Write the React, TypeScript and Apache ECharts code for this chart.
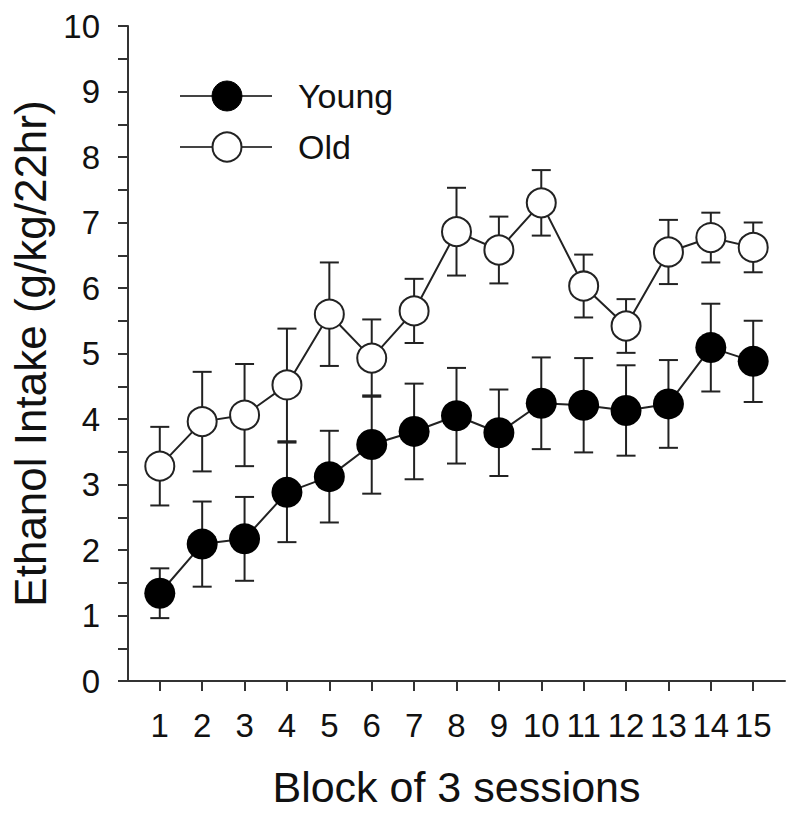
import React, { useEffect, useRef } from "react";
import * as echarts from "echarts";

const blocks = [1, 2, 3, 4, 5, 6, 7, 8, 9, 10, 11, 12, 13, 14, 15];
const youngMean = [1.34, 2.09, 2.17, 2.88, 3.12, 3.61, 3.81, 4.05, 3.79, 4.24, 4.21, 4.13, 4.23, 5.09, 4.88];
const youngErr = [0.38, 0.65, 0.64, 0.76, 0.7, 0.75, 0.73, 0.73, 0.66, 0.7, 0.72, 0.69, 0.67, 0.67, 0.62];
const oldMean = [3.28, 3.96, 4.06, 4.52, 5.6, 4.93, 5.65, 6.86, 6.58, 7.3, 6.03, 5.42, 6.55, 6.77, 6.62];
const oldErr = [0.6, 0.76, 0.78, 0.86, 0.79, 0.59, 0.49, 0.67, 0.51, 0.5, 0.48, 0.41, 0.49, 0.38, 0.38];
const yLabels = [0, 1, 2, 3, 4, 5, 6, 7, 8, 9, 10];

const FONT = "'Liberation Sans', Arial, Helvetica, sans-serif";
const INK = "#111";
const AXIS = "#333";

function errorSeries(mean: number[], err: number[]) {
  return {
    type: "custom",
    z: 1,
    silent: true,
    data: blocks.map((b, i) => [b, mean[i] - err[i], mean[i] + err[i]]),
    renderItem: (params: any, api: any) => {
      const x = api.value(0);
      const lo = api.coord([x, api.value(1)]);
      const hi = api.coord([x, api.value(2)]);
      const cap = 9.5;
      const style = { stroke: "#222", lineWidth: 2 };
      return {
        type: "group",
        children: [
          { type: "line", shape: { x1: lo[0], y1: lo[1], x2: hi[0], y2: hi[1] }, style },
          { type: "line", shape: { x1: lo[0] - cap, y1: lo[1], x2: lo[0] + cap, y2: lo[1] }, style },
          { type: "line", shape: { x1: hi[0] - cap, y1: hi[1], x2: hi[0] + cap, y2: hi[1] }, style },
        ],
      };
    },
  };
}

export default function App() {
  const ref = useRef<HTMLDivElement>(null);
  useEffect(() => {
    if (!ref.current) return;
    const chart = echarts.init(ref.current, null, { renderer: "svg" });
    chart.setOption({
      animation: false,
      backgroundColor: "#fff",
      grid: { left: 128, top: 26, right: 4, bottom: 139, containLabel: false },
      xAxis: {
        type: "value",
        min: 0.25,
        max: 15.75,
        name: "Block of 3 sessions",
        nameLocation: "middle",
        nameGap: 84,
        nameTextStyle: { fontFamily: FONT, fontSize: 43, color: INK },
        axisLine: { show: true, onZero: false, lineStyle: { color: AXIS, width: 2 } },
        axisTick: { show: true, length: 10, customValues: blocks, lineStyle: { color: AXIS, width: 2 } },
        axisLabel: { customValues: blocks, margin: 28, fontFamily: FONT, fontSize: 33, color: INK },
        splitLine: { show: false },
      },
      yAxis: {
        type: "value",
        min: 0,
        max: 10,
        interval: 0.5,
        name: "Ethanol Intake (g/kg/22hr)",
        nameLocation: "middle",
        nameGap: 72,
        nameTextStyle: { fontFamily: FONT, fontSize: 44, color: INK },
        axisLine: { show: true, lineStyle: { color: AXIS, width: 2 } },
        axisTick: { show: true, length: 10, lineStyle: { color: AXIS, width: 2 } },
        axisLabel: { customValues: yLabels, margin: 28, fontFamily: FONT, fontSize: 33, color: INK },
        splitLine: { show: false },
      },
      graphic: [
        { type: "line", shape: { x1: 180, y1: 96, x2: 272, y2: 96 }, style: { stroke: "#444", lineWidth: 2 } },
        { type: "circle", shape: { cx: 227, cy: 96, r: 15 }, style: { fill: "#000", stroke: "#000", lineWidth: 1 } },
        { type: "text", x: 298, y: 96, style: { text: "Young", fontFamily: FONT, fontSize: 34, fill: INK, verticalAlign: "middle" } },
        { type: "line", shape: { x1: 180, y1: 147, x2: 272, y2: 147 }, style: { stroke: "#444", lineWidth: 2 } },
        { type: "circle", shape: { cx: 227, cy: 147, r: 14.5 }, style: { fill: "#fff", stroke: "#222", lineWidth: 2 } },
        { type: "text", x: 298, y: 147, style: { text: "Old", fontFamily: FONT, fontSize: 34, fill: INK, verticalAlign: "middle" } },
      ],
      series: [
        errorSeries(oldMean, oldErr),
        errorSeries(youngMean, youngErr),
        {
          name: "Old",
          type: "line",
          z: 3,
          data: blocks.map((b, i) => [b, oldMean[i]]),
          symbol: "circle",
          symbolSize: 29,
          lineStyle: { color: "#222", width: 2 },
          itemStyle: { color: "#fff", borderColor: "#222", borderWidth: 2 },
        },
        {
          name: "Young",
          type: "line",
          z: 4,
          data: blocks.map((b, i) => [b, youngMean[i]]),
          symbol: "circle",
          symbolSize: 31,
          lineStyle: { color: "#222", width: 2 },
          itemStyle: { color: "#000", borderColor: "#000", borderWidth: 0 },
        },
      ],
    });
    return () => chart.dispose();
  }, []);
  return <div ref={ref} style={{ width: 789, height: 820, position: "absolute", left: 0, top: 0 }} />;
}
